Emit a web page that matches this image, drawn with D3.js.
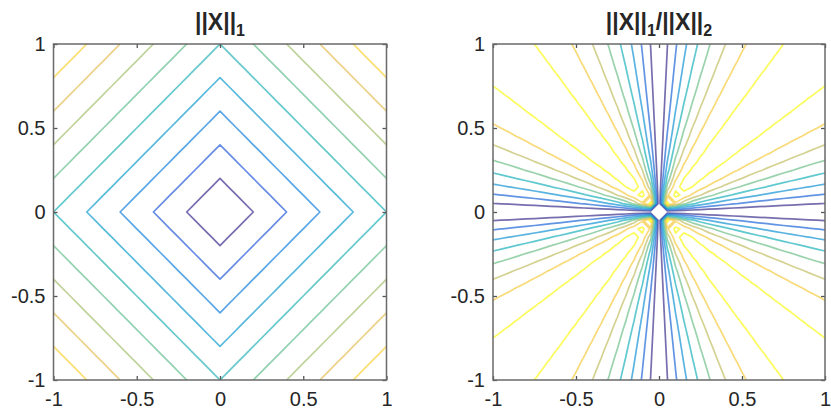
<!DOCTYPE html>
<html>
  <head>
    <meta charset="UTF-8" />
    <script src="https://d3js.org/d3.v7.min.js"></script>
    <style>
      body { margin: 0; background: #fff; }
      text { font-family: "Liberation Sans", Arial, sans-serif; fill: #262626; }
    </style>
  </head>
  <body>
    <div id="chart"></div>

    <script>
      // axis ticks shared by both panels
      const tickValues = [-1, -0.5, 0, 0.5, 1];
      const tickLabels = ["-1", "-0.5", "0", "0.5", "1"];

      // sampling step of the meshgrid the contours were computed on
      const gridStep = 0.05;

      // contour levels of each panel
      const l1Levels = [0.2, 0.4, 0.6, 0.8, 1.0, 1.2, 1.4, 1.6, 1.8];
      const ratioLevels = [1.05, 1.1, 1.15, 1.2, 1.25, 1.3, 1.35, 1.4];

      // parula key colours
      const parula = ["#352a87", "#2053d4", "#0d75dc", "#0c93d2", "#07a9c2",
        "#38b99e", "#7cbf7b", "#b7bd64", "#f1b94a", "#fad32a", "#f9fb0e"];

      var width = 831, height = 410;

      var svg = d3.select("#chart").append("svg")
        .attr("width", width)
        .attr("height", height);

      var parulaInterp = d3.piecewise(d3.interpolateRgb, parula);

      var panels = [
        {
          left: 53.5, right: 386.5, cx: 220,
          title: [["||X||", false], ["1", true]],
          levels: l1Levels,
          colorDomain: [0.2, 2.0],
          fn: (x, y) => Math.abs(x) + Math.abs(y)
        },
        {
          left: 493, right: 825, cx: 659,
          title: [["||X||", false], ["1", true], ["/||X||", false], ["2", true]],
          levels: ratioLevels,
          colorDomain: [1.05, 1.4],
          fn: (x, y) => (Math.abs(x) + Math.abs(y)) / Math.sqrt(x * x + y * y)
        }
      ];

      var plotTop = 44, plotBottom = 380;
      var n = Math.round(2 / gridStep) + 1;
      var mid = (n - 1) / 2;

      panels.forEach(function (p, k) {
        var x = d3.scaleLinear().domain([-1, 1]).range([p.left, p.right]);
        var y = d3.scaleLinear().domain([-1, 1]).range([plotBottom, plotTop]);
        var color = d3.scaleLinear().domain(p.colorDomain).range([0, 1]);

        // grid values, origin left as NaN where undefined
        var values = new Array(n * n);
        for (var j = 0; j < n; j++) {
          for (var i = 0; i < n; i++) {
            values[j * n + i] = p.fn((i - mid) * gridStep, (j - mid) * gridStep);
          }
        }

        var contours = d3.contours().size([n, n]).thresholds(p.levels)(values);

        var proj = d3.geoTransform({
          point: function (gx, gy) {
            this.stream.point(x((gx - 0.5 - mid) * gridStep), y((gy - 0.5 - mid) * gridStep));
          }
        });
        var path = d3.geoPath(proj);

        svg.append("clipPath").attr("id", "clip" + k)
          .append("rect")
          .attr("x", p.left).attr("y", plotTop)
          .attr("width", p.right - p.left).attr("height", plotBottom - plotTop);

        svg.append("g")
          .attr("clip-path", "url(#clip" + k + ")")
          .selectAll("path")
          .data(contours)
          .join("path")
          .attr("d", path)
          .attr("fill", "none")
          .attr("stroke", d => parulaInterp(color(d.value)))
          .attr("stroke-opacity", 0.68)
          .attr("stroke-width", 1.7)
          .attr("stroke-linejoin", "round");

        // ticks inside the box, MATLAB style
        var fmt = d => tickLabels[tickValues.indexOf(d)];
        var axes = [
          [d3.axisBottom(x), "translate(0," + plotBottom + ")", true, 12],
          [d3.axisTop(x), "translate(0," + plotTop + ")", false, 0],
          [d3.axisLeft(y), "translate(" + p.left + ",0)", true, 8],
          [d3.axisRight(y), "translate(" + p.right + ",0)", false, 0]
        ];
        axes.forEach(function (a) {
          var g = svg.append("g")
            .attr("transform", a[1])
            .call(a[0].tickValues(tickValues).tickFormat(a[2] ? fmt : () => "")
              .tickSizeInner(-4).tickSizeOuter(0).tickPadding(a[3]));
          g.select(".domain").remove();
          g.selectAll("line").attr("stroke", "#555").attr("stroke-width", 1.3);
          g.selectAll("text")
            .attr("font-size", 20)
            .attr("font-family", "Liberation Sans, Arial, sans-serif")
            .attr("fill", "#2b2b2b");
        });

        svg.append("rect")
          .attr("x", p.left).attr("y", plotTop)
          .attr("width", p.right - p.left).attr("height", plotBottom - plotTop)
          .attr("fill", "none")
          .attr("stroke", "#6a6a6a")
          .attr("stroke-width", 1.5);

        var t = svg.append("text")
          .attr("x", p.cx).attr("y", 30)
          .attr("text-anchor", "middle")
          .attr("font-weight", "bold")
          .attr("font-size", 23);
        p.title.forEach(function (part) {
          t.append("tspan")
            .attr("font-size", part[1] ? 16 : 23)
            .attr("dy", part[1] ? 6 : (t.selectAll("tspan").size() > 1 ? -6 : 0))
            .text(part[0]);
        });
      });
    </script>
  </body>
</html>
